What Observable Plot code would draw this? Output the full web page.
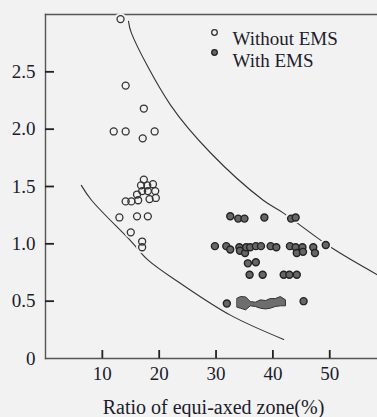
<!DOCTYPE html>
<html>
<head>
<meta charset="utf-8">
<script src="https://cdn.jsdelivr.net/npm/d3@7"></script>
<script src="https://cdn.jsdelivr.net/npm/@observablehq/plot@0.6"></script>
<style>
  html, body { margin: 0; padding: 0; background: #f2f2f2; }
  #chart svg { display: block; }
  #chart svg text { font-family: 'Liberation Serif', 'Times New Roman', serif !important; font-variant: normal !important; }
</style>
</head>
<body>
<div id="chart"></div>
<script>
// ---- Data ----
const xTicks = [10, 20, 30, 40, 50];
const yTicks = [0, 0.5, 1.0, 1.5, 2.0, 2.5];
const yTickLabels = ["0", "0.5", "1.0", "1.5", "2.0", "2.5"];
const xTickLabels = ["10", "20", "30", "40", "50"];
const xTitle = "Ratio of equi-axed zone(%)";
const legendLabels = ["Without EMS", "With EMS"];

// Without EMS (open circles)
const withoutX = [13.2, 14.1, 12.0, 14.1, 17.3, 19.2, 17.1,
  17.3, 16.8, 17.9, 18.9, 17.0, 18.0, 19.3, 16.1, 18.3, 19.4, 16.3, 15.1, 14.1,
  13.0, 16.1, 18.0, 15.0, 17.0, 17.0];
const withoutY = [2.96, 2.38, 1.98, 1.98, 2.18, 1.98, 1.92,
  1.56, 1.51, 1.51, 1.52, 1.46, 1.46, 1.46, 1.43, 1.39, 1.40, 1.38, 1.37, 1.37,
  1.23, 1.24, 1.24, 1.10, 1.02, 0.97];

// With EMS (filled circles)
const withX = [32.5, 33.9, 35.0, 38.5, 43.2, 44.0,
  29.8, 31.8, 32.5, 34.1, 34.2, 35.1, 35.3, 36.0, 37.0, 37.9, 39.6, 40.6,
  43.0, 44.0, 44.2, 45.2, 45.3, 47.1, 47.4, 49.3,
  35.6, 37.0,
  35.9, 38.2, 41.9, 42.9, 44.2,
  31.9, 45.4];
const withY = [1.24, 1.22, 1.22, 1.23, 1.22, 1.23,
  0.98, 0.98, 0.95, 0.97, 0.94, 0.92, 0.97, 0.97, 0.98, 0.98, 0.98, 0.97,
  0.98, 0.97, 0.92, 0.97, 0.93, 0.97, 0.92, 0.99,
  0.83, 0.84,
  0.73, 0.73, 0.73, 0.73, 0.73,
  0.48, 0.50];

// Dense cluster of With EMS points near 0.5 (merged gray blob)
const blobX      = [33.8, 34.4, 35.3, 36.1, 37.0, 37.9, 38.8, 39.6, 40.5, 41.4, 42.3];
const blobTop    = [0.522, 0.536, 0.533, 0.492, 0.487, 0.507, 0.501, 0.518, 0.518, 0.536, 0.507];
const blobBottom = [0.443, 0.434, 0.420, 0.455, 0.449, 0.434, 0.428, 0.434, 0.449, 0.455, 0.455];

// Boundary curves
const upperX = [14.6, 15.1, 22.0, 29.1, 38.3, 41.8, 50.2, 58.4];
const upperY = [2.94, 2.84, 2.21, 1.79, 1.38, 1.27, 0.97, 0.73];
const lowerX = [6.3, 8.1, 15.1, 18.0, 23.9, 32.6, 41.9];
const lowerY = [1.51, 1.38, 1.02, 0.86, 0.65, 0.376, 0.166];

// ---- Tables built from the arrays ----
const without = withoutX.map((x, i) => ({x, y: withoutY[i]}));
const withEMS = withX.map((x, i) => ({x, y: withY[i]}));
const blob = blobX.map((x, i) => ({x, y1: blobBottom[i], y2: blobTop[i]}));
const upper = upperX.map((x, i) => ({x, y: upperY[i]}));
const lower = lowerX.map((x, i) => ({x, y: lowerY[i]}));
const yTickData = yTicks.map((v, i) => ({v, label: yTickLabels[i]}));
const xTickData = xTicks.map((v, i) => ({v, label: xTickLabels[i]}));

const BG = "#f2f2f2";
const INK = "#1c1c2c";
const AXIS = "#555";
const FONT = "'Liberation Serif', 'Times New Roman', serif";

const W = 377, H = 417, ML = 45, MR = 0, MT = 14, MB = 59;
const frameW = W - ML - MR, frameH = H - MT - MB;

const chart = Plot.plot({
  width: W,
  height: H,
  marginLeft: ML,
  marginRight: MR,
  marginTop: MT,
  marginBottom: MB,
  style: {background: BG, fontFamily: FONT, fontSize: "19px", color: INK, overflow: "visible"},
  x: {domain: [0, 58.4], axis: null},
  y: {domain: [0, 3], axis: null},
  marks: [
    // frame lines (left, bottom, top)
    Plot.frame({anchor: "left", stroke: AXIS, strokeWidth: 1.4}),
    Plot.frame({anchor: "bottom", stroke: AXIS, strokeWidth: 1.4}),
    Plot.frame({anchor: "top", stroke: AXIS, strokeWidth: 1.4}),
    // inward ticks (8px on y, 7px on x)
    Plot.tickY(yTicks.filter(v => v > 0), {y: d => d, insetRight: frameW - 9, stroke: "#222", strokeWidth: 1.8}),
    Plot.tickX(xTicks, {x: d => d, insetTop: frameH - 8, stroke: "#222", strokeWidth: 1.8}),
    // tick labels
    Plot.text(yTickData, {y: "v", text: "label", frameAnchor: "left", dx: -10, textAnchor: "end", fontSize: 19, fontFamily: FONT, fill: INK}),
    Plot.text(xTickData, {x: "v", text: "label", frameAnchor: "bottom", dy: 21, fontSize: 19, fontFamily: FONT, fill: INK}),
    // curves
    Plot.line(upper, {x: "x", y: "y", curve: "catmull-rom", stroke: "#333", strokeWidth: 1.1}),
    Plot.line(lower, {x: "x", y: "y", curve: "catmull-rom", stroke: "#333", strokeWidth: 1.1}),
    // halos
    Plot.dot(without, {x: "x", y: "y", r: 6, fill: BG, stroke: "none"}),
    Plot.dot(withEMS, {x: "x", y: "y", r: 6, fill: BG, stroke: "none"}),
    // blob
    Plot.areaY(blob, {x: "x", y1: "y1", y2: "y2", fill: "#6e6e6e", stroke: "#333", strokeWidth: 1, curve: "linear"}),
    // points
    Plot.dot(without, {x: "x", y: "y", r: 3.5, fill: "none", stroke: "#333", strokeWidth: 1.3}),
    Plot.dot(withEMS, {x: "x", y: "y", r: 3.5, fill: "#666", stroke: "#222", strokeWidth: 1.4}),
    // x title
    Plot.text([xTitle], {frameAnchor: "bottom", dx: 2, dy: 55, fontSize: 20, fontFamily: FONT, fill: INK}),
    // legend
    Plot.dot([legendLabels[0]], {frameAnchor: "top-left", dx: 169, dy: 18, r: 2.8, fill: "none", stroke: "#333", strokeWidth: 1.3}),
    Plot.dot([legendLabels[1]], {frameAnchor: "top-left", dx: 169, dy: 38, r: 2.8, fill: "#666", stroke: "#222", strokeWidth: 1.3}),
    Plot.text([legendLabels[0]], {text: d => d, frameAnchor: "top-left", dx: 187, dy: 17, textAnchor: "start", fontSize: 19, fontFamily: FONT, fill: INK}),
    Plot.text([legendLabels[1]], {text: d => d, frameAnchor: "top-left", dx: 187, dy: 39, textAnchor: "start", fontSize: 19, fontFamily: FONT, fill: INK})
  ]
});
document.getElementById("chart").appendChild(chart);
</script>
</body>
</html>
